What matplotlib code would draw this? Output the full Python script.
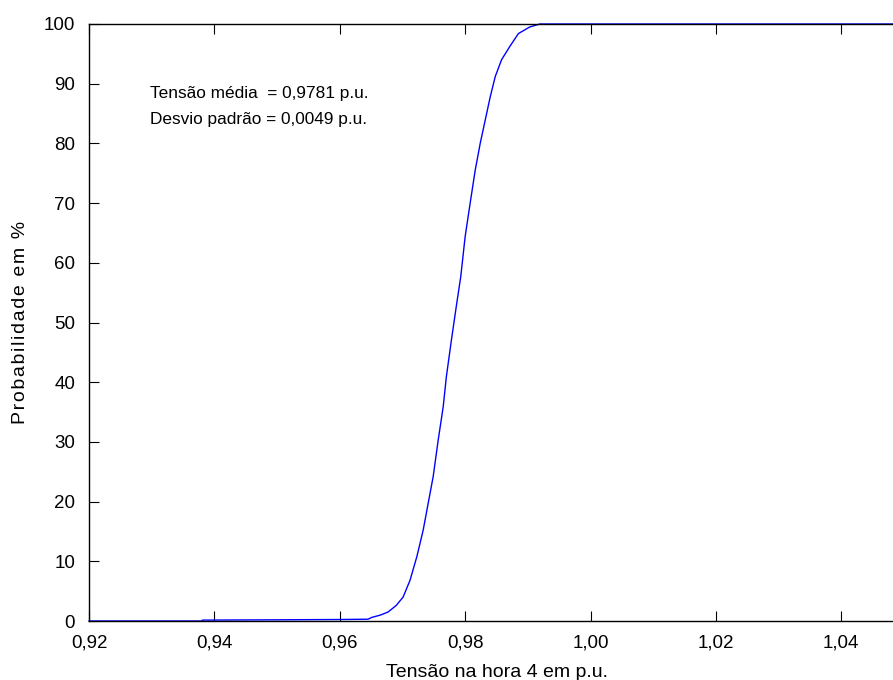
import matplotlib
matplotlib.use("Agg")
import matplotlib.pyplot as plt

plt.rcParams['font.family'] = ['Liberation Sans', 'DejaVu Sans']

tensao = [0.9200, 0.9380, 0.9381, 0.9500, 0.9600, 0.9645, 0.9651, 0.9665,
          0.9677, 0.9690, 0.9701, 0.9712, 0.9723, 0.9733, 0.9741, 0.9749,
          0.9757, 0.9765, 0.9770, 0.9778, 0.9786, 0.9793, 0.9800, 0.9808,
          0.9816, 0.9824, 0.9832, 0.9840, 0.9848, 0.9858, 0.9871, 0.9885,
          0.9903, 0.9919, 1.0500]
probabilidade = [0.0, 0.0, 0.15, 0.2, 0.25, 0.3, 0.6, 1.0,
                 1.5, 2.6, 4.0, 6.8, 10.8, 15.2, 19.7, 24.2,
                 30.3, 35.9, 40.9, 47.0, 52.8, 57.7, 64.4, 70.0,
                 75.5, 80.0, 83.9, 87.8, 91.2, 94.0, 96.2, 98.4,
                 99.5, 100.0, 100.0]

xticks = [0.92, 0.94, 0.96, 0.98, 1.00, 1.02, 1.04]
xticklabels = ['0,92', '0,94', '0,96', '0,98', '1,00', '1,02', '1,04']
yticks = [0, 10, 20, 30, 40, 50, 60, 70, 80, 90, 100]

fig = plt.figure(figsize=(8.93, 6.8), dpi=100)
ax = fig.add_axes([89/893, 59/680, 815/893, 597/680])
ax.plot(tensao, probabilidade, color='#0000ff', lw=1.0, clip_on=False)
ax.set_xlim(0.92, 1.05)
ax.set_ylim(0, 100)
ax.set_xticks(xticks)
ax.set_xticklabels(xticklabels)
ax.set_yticks(yticks)
ax.tick_params(direction='in', length=7, width=0.8, top=True, right=True,
               labelsize=13.5)
ax.tick_params(axis='x', pad=10)
ax.tick_params(axis='y', pad=10)
for s in ax.spines.values():
    s.set_linewidth(1.0)

ax.set_xlabel('Tensão na hora 4 em p.u.', fontsize=14, labelpad=9)
ylab = '\u200a'.join('Probabilidade em %')
ax.set_ylabel(ylab, fontsize=14)
ax.yaxis.set_label_coords(-60/815, 0.5)

ax.text(0.9297, 88.4, 'Tensão média  = 0,9781 p.u.', fontsize=12.4, va='center')
ax.text(0.9297, 84.0, 'Desvio padrão = 0,0049 p.u.', fontsize=12.4, va='center')

fig.savefig('out.png', dpi=100)
